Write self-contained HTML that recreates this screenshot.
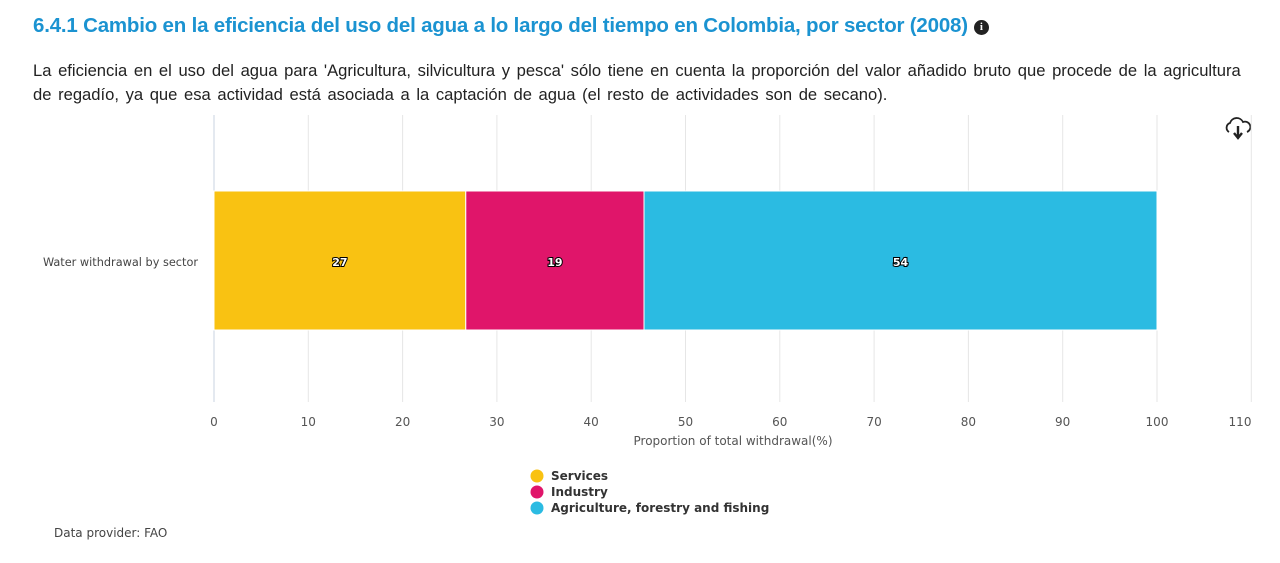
<!DOCTYPE html>
<html><head><meta charset="utf-8"><style>
body{margin:0;width:1280px;height:563px;background:#fff;font-family:"Liberation Sans",sans-serif;position:relative;overflow:hidden}
#title{position:absolute;left:33px;top:14px;font-size:20.5px;font-weight:bold;color:#1b93d1;letter-spacing:-0.2px}
#info{display:inline-block;width:15px;height:15px;border-radius:50%;background:#222;color:#fff;font-size:11px;text-align:center;line-height:15px;font-family:"Liberation Serif",serif;vertical-align:2px;margin-left:6px}
#sub{position:absolute;left:33px;top:59px;width:1222px;font-size:16.6px;line-height:24px;color:#222;word-spacing:2px}
#prov{position:absolute;left:54px;top:526px;font-size:12px;color:#444;font-family:"DejaVu Sans",sans-serif}
svg{position:absolute;left:0;top:0;font-family:"DejaVu Sans",sans-serif}
</style></head><body>
<div id="title">6.4.1 Cambio en la eficiencia del uso del agua a lo largo del tiempo en Colombia, por sector (2008)<span id="info">i</span></div>
<div id="sub">La eficiencia en el uso del agua para 'Agricultura, silvicultura y pesca' sólo tiene en cuenta la proporción del valor añadido bruto que procede de la agricultura de regadío, ya que esa actividad está asociada a la captación de agua (el resto de actividades son de secano).</div>
<svg id="chart" width="1280" height="563">
<g transform="translate(1224,116)">
<path d="M5 16 A5 5 0 0 1 6 7 A7 7 0 0 1 19 6 A5 5 0 0 1 23 16" fill="none" stroke="#222" stroke-width="1.8"/>
<path d="M14 10 V21 M10 17 L14 22 L18 17" fill="none" stroke="#222" stroke-width="2.4"/>
</g>
</svg>
<div id="prov">Data provider: FAO</div>
<script>
const categories=["Water withdrawal by sector"];
const seriesNames=["Services","Industry","Agriculture, forestry and fishing"];
const seriesValues=[26.7,18.9,54.4];
const seriesLabels=["27","19","54"];
const seriesColors=["#f9c212","#e0156a","#2bbbe2"];
const ticks=[0,10,20,30,40,50,60,70,80,90,100,110];
const NS="http://www.w3.org/2000/svg";
const svg=document.getElementById('chart');
const x=v=>214+v*9.43;
function el(t,a,p){const e=document.createElementNS(NS,t);for(const k in a)e.setAttribute(k,a[k]);(p||svg).appendChild(e);return e;}
ticks.forEach(t=>{
 const g=el('line',{x1:x(t),x2:x(t),y1:115,y2:402,stroke:t===0?'#c8d3e0':'#e6e6e6','stroke-width':1});
 
 
 const lx=Math.min(x(t),1240);
 const l=el('text',{x:lx,y:426,'text-anchor':'middle','font-size':12,fill:'#555'});l.textContent=t;
 
 
});
const xt=el('text',{x:733,y:445,'text-anchor':'middle','font-size':12,fill:'#555'});xt.textContent="Proportion of total withdrawal(%)";


const cl=el('text',{x:198,y:266,'text-anchor':'end','font-size':11.3,fill:'#444'});cl.textContent=categories[0];


let acc=0;
seriesValues.forEach((v,i)=>{
 const r=el('rect',{x:x(acc),y:191,width:x(acc+v)-x(acc),height:139,fill:seriesColors[i],stroke:'#fff','stroke-width':1});
 
 
 const t=el('text',{x:(x(acc)+x(acc+v))/2,y:266,'text-anchor':'middle','font-size':11,'font-weight':'bold',fill:'#fff',stroke:'#000','stroke-width':2,'paint-order':'stroke'});
 t.textContent=seriesLabels[i];
 
 
 acc+=v;
 const c=el('circle',{cx:537,cy:476+i*16,r:6.5,fill:seriesColors[i]});
 
 
 const lt=el('text',{x:551,y:480+i*16,'font-size':12,'font-weight':'bold',fill:'#333'});lt.textContent=seriesNames[i];
 
 
});
</script>
</body></html>
